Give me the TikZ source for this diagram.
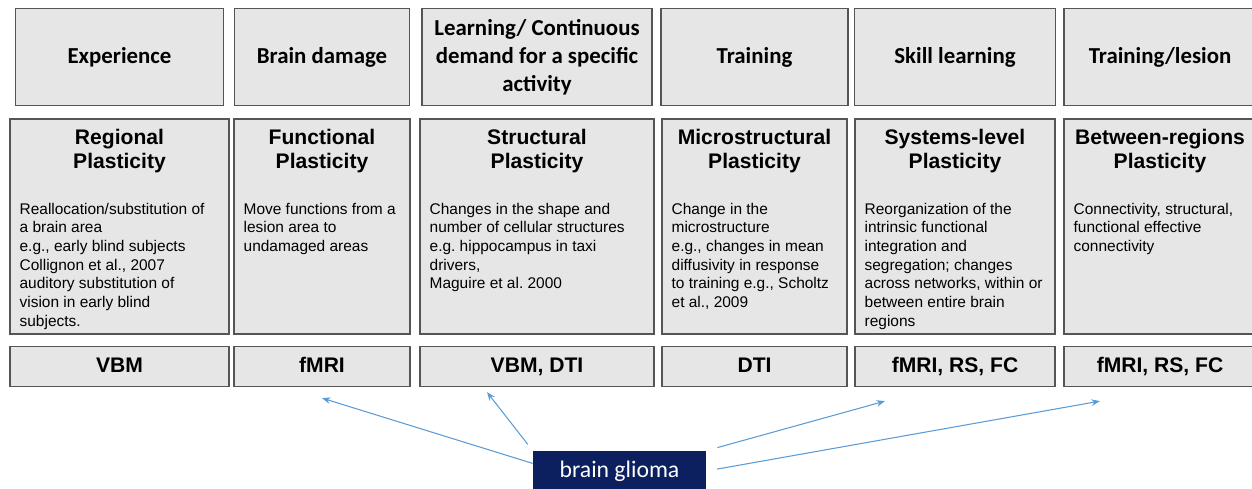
\documentclass[tikz,border=0pt]{standalone}
\usepackage{fontspec}
\setmainfont{Liberation Sans}
\newfontfamily\calibfont{Carlito}
\usetikzlibrary{arrows.meta,positioning}
\frenchspacing

\definecolor{boxgray}{HTML}{E6E6E6}
\definecolor{boxline}{HTML}{555555}
\definecolor{gliomablue}{HTML}{0C1F5E}
\definecolor{arrowblue}{HTML}{5B9BD5}

\begin{document}
\begin{tikzpicture}
  [>={Stealth[length=1.7mm,width=1.3mm]},%设置箭头样式
   box/.style={rectangle,draw=boxline,fill=boxgray,line width=0.8pt,inner sep=0pt},%灰色矩形框
   head/.style={box,minimum height=1.94cm,align=center,font={\calibfont\bfseries\fontsize{13}{16}\selectfont}},%第一行:原因
   plast/.style={box,minimum height=4.3cm},%第二行:可塑性类型
   title/.style={inner sep=0pt,align=center,font={\bfseries\fontsize{12}{13.6}\selectfont}},
   desc/.style={inner sep=0pt,align=left,font={\fontsize{8.8}{10.6}\selectfont}},
   method/.style={box,minimum height=0.8cm,text height=1.6ex,text depth=0.3ex,font={\bfseries\fontsize{12}{14}\selectfont}},%第三行:方法
   glioma/.style={rectangle,fill=gliomablue,text=white,minimum width=3.46cm,minimum height=0.8cm,font={\calibfont\fontsize{13.5}{16}\selectfont}},
   link/.style={->,draw=arrowblue,line width=0.6pt}]%蓝色箭头

  \useasboundingbox (0,0) rectangle (25.04,-9.76);%固定图形大小

  % 第二行 六个可塑性框
  \node [plast,minimum width=4.38cm] (regional)   at (2.39,-4.53)  {};
  \node [plast,minimum width=3.52cm] (functional) at (6.44,-4.53)  {};
  \node [plast,minimum width=4.68cm] (structural) at (10.74,-4.53) {};
  \node [plast,minimum width=3.70cm] (micro)      at (15.09,-4.53) {};
  \node [plast,minimum width=4.00cm] (systems)    at (19.10,-4.53) {};
  \node [plast,minimum width=3.84cm] (between)    at (23.20,-4.53) {};

  % 第一行 放在可塑性框的上方
  \node [head,minimum width=4.16cm] (exp)    [above=0.24cm of regional]   {Experience};
  \node [head,minimum width=3.50cm] (dmg)    [above=0.24cm of functional] {Brain damage};
  \node [head,minimum width=4.60cm] (learn)  [above=0.24cm of structural] {Learning/ Continuous\\demand for a specific\\activity};
  \node [head,minimum width=3.74cm] (train)  [above=0.24cm of micro]      {Training};
  \node [head,minimum width=4.02cm] (skill)  [above=0.24cm of systems]    {Skill learning};
  \node [head,minimum width=3.84cm] (lesion) [above=0.24cm of between]    {Training/lesion};

  % 第三行 放在可塑性框的下方
  \node [method,minimum width=4.38cm] (vbm)    [below=0.22cm of regional]   {VBM};
  \node [method,minimum width=3.52cm] (fmri)   [below=0.22cm of functional] {fMRI};
  \node [method,minimum width=4.68cm] (vbmdti) [below=0.22cm of structural] {VBM, DTI};
  \node [method,minimum width=3.70cm] (dti)    [below=0.22cm of micro]      {DTI};
  \node [method,minimum width=4.00cm] (rsfc1)  [below=0.22cm of systems]    {fMRI, RS, FC};
  \node [method,minimum width=3.84cm] (rsfc2)  [below=0.22cm of between]    {fMRI, RS, FC};

  % 可塑性框中的标题
  \node [title] (regional t)   [below=0.22cm of regional.north]   {Regional\\Plasticity};
  \node [title] (functional t) [below=0.22cm of functional.north] {Functional\\Plasticity};
  \node [title] (structural t) [below=0.22cm of structural.north] {Structural\\Plasticity};
  \node [title] (micro t)      [below=0.22cm of micro.north]      {Microstructural\\Plasticity};
  \node [title] (systems t)    [below=0.22cm of systems.north]    {Systems-level\\Plasticity};
  \node [title] (between t)    [below=0.22cm of between.north]    {Between-regions\\Plasticity};

  % 可塑性框中的说明文字
  \node [desc] (regional d) [below right=1.69cm and 0.2cm of regional.north west]
    {Reallocation/substitution of\\a brain area\\e.g., early blind subjects\\Collignon et al., 2007\\auditory substitution of\\vision in early blind\\subjects.};
  \node [desc] (functional d) [below right=1.69cm and 0.2cm of functional.north west]
    {Move functions from a\\lesion area to\\undamaged areas};
  \node [desc] (structural d) [below right=1.69cm and 0.2cm of structural.north west]
    {Changes in the shape and\\number of cellular structures\\e.g. hippocampus in taxi\\drivers,\\Maguire et al. 2000};
  \node [desc] (micro d) [below right=1.69cm and 0.2cm of micro.north west]
    {Change in the\\microstructure\\e.g., changes in mean\\diffusivity in response\\to training e.g., Scholtz\\et al., 2009};
  \node [desc] (systems d) [below right=1.69cm and 0.2cm of systems.north west]
    {Reorganization of the\\intrinsic functional\\integration and\\segregation; changes\\across networks, within or\\between entire brain\\regions};
  \node [desc] (between d) [below right=1.69cm and 0.2cm of between.north west]
    {Connectivity, structural,\\functional effective\\connectivity};

  % 底部的脑胶质瘤框
  \node [glioma] (glioma) at (12.39,-9.42) {brain glioma};

  % 箭头的终点
  \coordinate [below=0.22cm of fmri.south] (fmri tip);
  \coordinate [below left=0.1cm and 1.0cm of vbmdti.south] (vbmdti tip);
  \coordinate [below left=0.28cm and 1.4cm of rsfc1.south] (rsfc1 tip);
  \coordinate [below left=0.28cm and 1.2cm of rsfc2.south] (rsfc2 tip);

  \draw [link]                   (glioma.175)        -- (fmri tip);
  \draw [link,shorten <=0.16cm]  (glioma.north west) -- (vbmdti tip);
  \draw [link,shorten <=0.23cm]  (glioma.north east) -- (rsfc1 tip);
  \draw [link,shorten <=0.22cm]  (glioma.east)       -- (rsfc2 tip);
\end{tikzpicture}
\end{document}
